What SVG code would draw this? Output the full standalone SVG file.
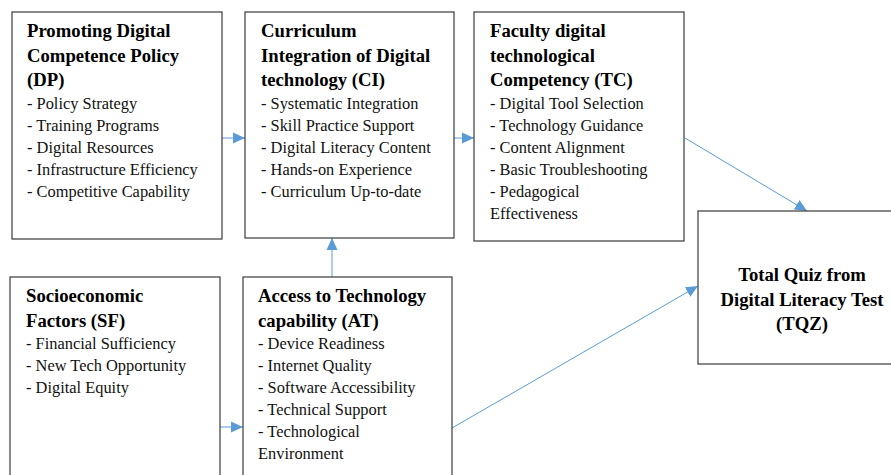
<svg xmlns="http://www.w3.org/2000/svg" width="891" height="475" viewBox="0 0 891 475">
  <style>
    .box { fill: #ffffff; stroke: #3a3a3a; stroke-width: 1.2; }
    .title { font-family: "Liberation Serif", "Times New Roman", serif; font-weight: bold; font-size: 18.7px; fill: #000; }
    .item { font-family: "Liberation Serif", "Times New Roman", serif; font-size: 16.4px; fill: #111; }
    .link { stroke: #5b9bd5; stroke-width: 1; fill: none; marker-end: url(#arrow); }
  </style>
  <defs>
    <marker id="arrow" viewBox="0 0 12 12" refX="12" refY="6" markerWidth="12" markerHeight="12" markerUnits="userSpaceOnUse" orient="auto">
      <path d="M0,0.5 L12,6 L0,11.5 z" fill="#5b9bd5"/>
    </marker>
  </defs>
  <rect width="891" height="475" fill="#ffffff"/>

  <g id="connectors">
    <line class="link" x1="222" y1="138" x2="245" y2="138"/>
    <line class="link" x1="454" y1="138" x2="474" y2="138"/>
    <line class="link" x1="332" y1="277" x2="332" y2="238"/>
    <line class="link" x1="220" y1="427" x2="243" y2="427"/>
    <line class="link" x1="685" y1="138" x2="807" y2="211"/>
    <line class="link" x1="452" y1="428" x2="698" y2="286"/>
  </g>

  <g id="DP">
    <rect class="box" x="12" y="12" width="210" height="227"/>
    <text class="title" x="27" y="37">Promoting Digital</text>
    <text class="title" x="27" y="61.5">Competence Policy</text>
    <text class="title" x="27" y="86">(DP)</text>
    <text class="item" x="27" y="109">- Policy Strategy</text>
    <text class="item" x="27" y="131">- Training Programs</text>
    <text class="item" x="27" y="153">- Digital Resources</text>
    <text class="item" x="27" y="175">- Infrastructure Efficiency</text>
    <text class="item" x="27" y="197">- Competitive Capability</text>
  </g>

  <g id="CI">
    <rect class="box" x="245" y="12" width="209" height="226"/>
    <text class="title" x="261" y="37">Curriculum</text>
    <text class="title" x="261" y="61.5">Integration of Digital</text>
    <text class="title" x="261" y="86">technology (CI)</text>
    <text class="item" x="261" y="109">- Systematic Integration</text>
    <text class="item" x="261" y="131">- Skill Practice Support</text>
    <text class="item" x="261" y="153">- Digital Literacy Content</text>
    <text class="item" x="261" y="175">- Hands-on Experience</text>
    <text class="item" x="261" y="197">- Curriculum Up-to-date</text>
  </g>

  <g id="TC">
    <rect class="box" x="474" y="12" width="210" height="229"/>
    <text class="title" x="490" y="37">Faculty digital</text>
    <text class="title" x="490" y="61.5">technological</text>
    <text class="title" x="490" y="86">Competency (TC)</text>
    <text class="item" x="490" y="109">- Digital Tool Selection</text>
    <text class="item" x="490" y="131">- Technology Guidance</text>
    <text class="item" x="490" y="153">- Content Alignment</text>
    <text class="item" x="490" y="175">- Basic Troubleshooting</text>
    <text class="item" x="490" y="197">- Pedagogical</text>
    <text class="item" x="490" y="219">Effectiveness</text>
  </g>

  <g id="TQZ">
    <rect class="box" x="698" y="211" width="200" height="153"/>
    <text class="title" x="802" y="281" text-anchor="middle">Total Quiz from</text>
    <text class="title" x="802" y="306" text-anchor="middle">Digital Literacy Test</text>
    <text class="title" x="802" y="330" text-anchor="middle">(TQZ)</text>
  </g>

  <g id="SF">
    <rect class="box" x="10" y="277" width="210" height="210"/>
    <text class="title" x="26" y="302">Socioeconomic</text>
    <text class="title" x="26" y="326.5">Factors (SF)</text>
    <text class="item" x="26" y="349">- Financial Sufficiency</text>
    <text class="item" x="26" y="371">- New Tech Opportunity</text>
    <text class="item" x="26" y="393">- Digital Equity</text>
  </g>

  <g id="AT">
    <rect class="box" x="243" y="277" width="209" height="210"/>
    <text class="title" x="258" y="302">Access to Technology</text>
    <text class="title" x="258" y="326.5">capability (AT)</text>
    <text class="item" x="258" y="349">- Device Readiness</text>
    <text class="item" x="258" y="371">- Internet Quality</text>
    <text class="item" x="258" y="393">- Software Accessibility</text>
    <text class="item" x="258" y="415">- Technical Support</text>
    <text class="item" x="258" y="437">- Technological</text>
    <text class="item" x="258" y="459">Environment</text>
  </g>
</svg>
